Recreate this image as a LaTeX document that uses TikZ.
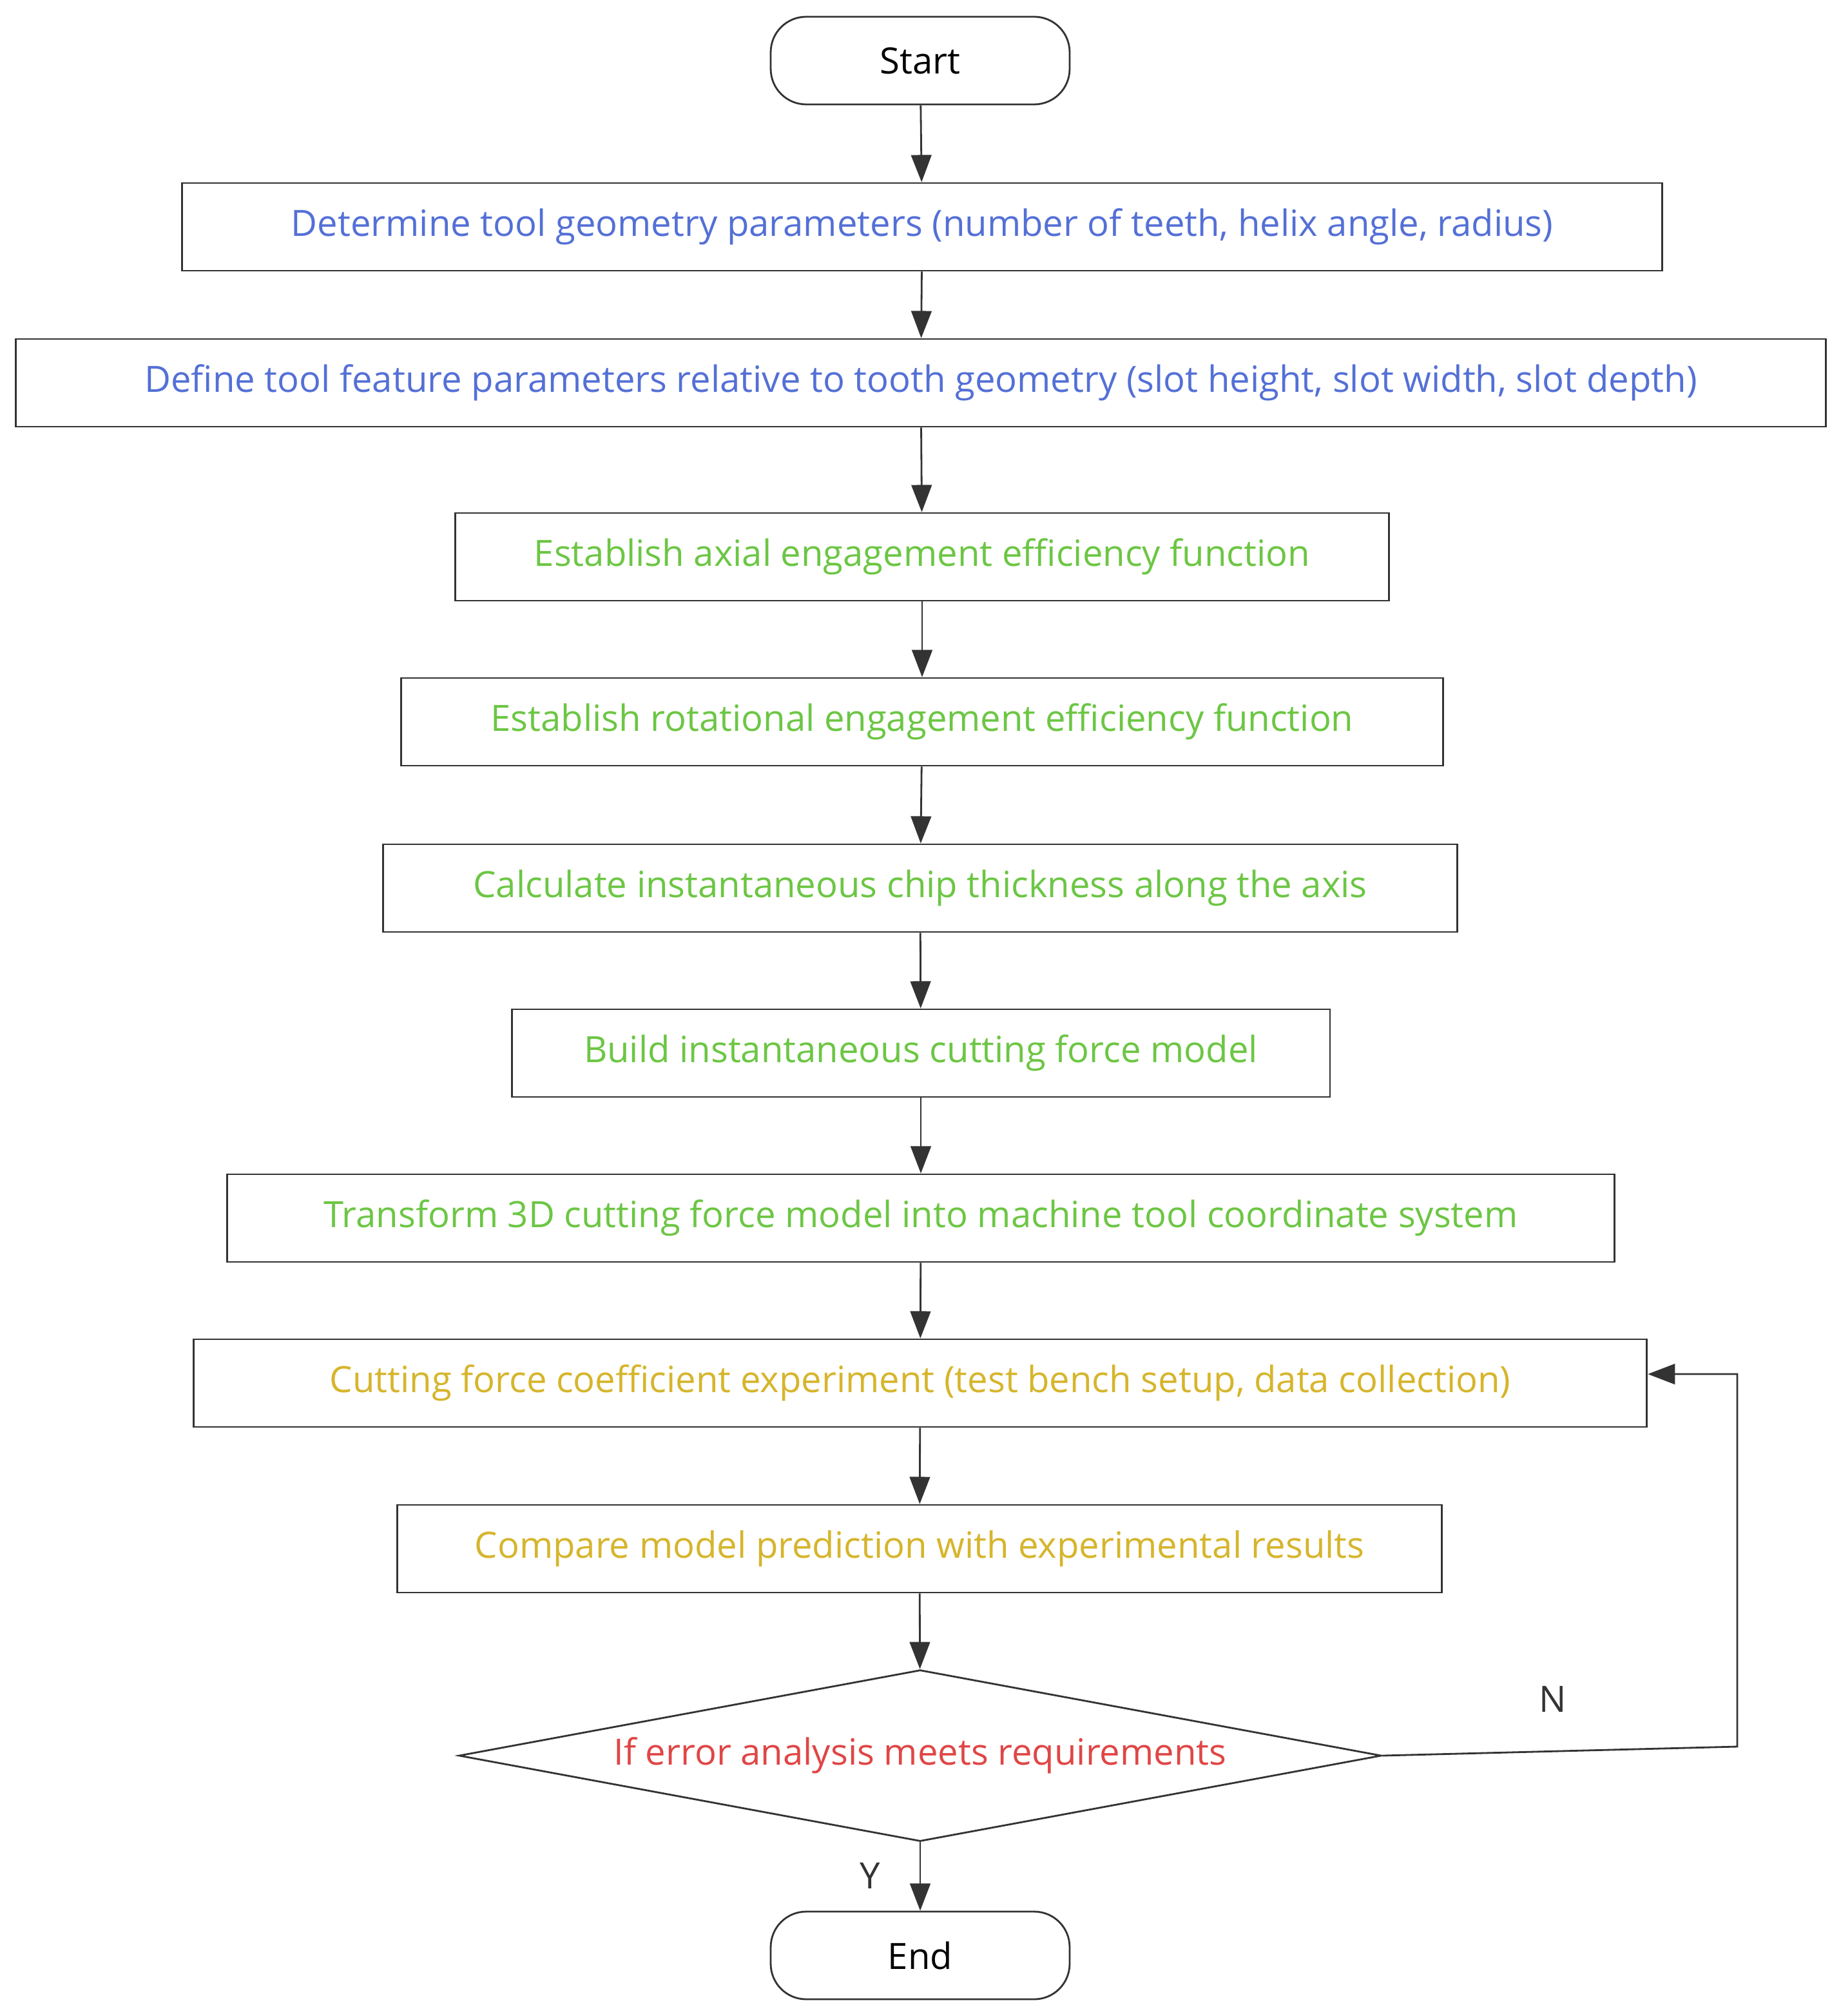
\documentclass[tikz,border=0pt]{standalone}
\usepackage{fontspec}
\setmainfont{Open Sans}
\usetikzlibrary{shapes.geometric,arrows.meta}
\definecolor{cb}{HTML}{5470D6}
\definecolor{cg}{HTML}{6CC644}
\definecolor{cy}{HTML}{D6B52C}
\definecolor{cr}{HTML}{E04646}
\definecolor{ln}{HTML}{333333}
\begin{document}
\begin{tikzpicture}[x=0.02cm,y=-0.02cm,
  box/.style={draw=ln,line width=0.8pt,minimum height=1.36cm,inner sep=0pt,font=\fontsize{16}{19}\selectfont},
  term/.style={box,rounded corners=0.55cm,minimum width=4.64cm},
  arr/.style={-{Triangle[length=12pt,width=9pt]},draw=ln,line width=0.8pt}]
\useasboundingbox (0,0) rectangle (1428,1564);
\node[term] (s) at (714,47) {Start};
\node[box,minimum width=22.98cm,text=cb] (b1) at (715.5,176) {Determine tool geometry parameters (number of teeth, helix angle, radius)};
\node[box,minimum width=28.1cm,text=cb] (b2) at (714.5,297) {Define tool feature parameters relative to tooth geometry (slot height, slot width, slot depth)};
\node[box,minimum width=14.5cm,text=cg] (b3) at (715.5,432) {Establish axial engagement efficiency function};
\node[box,minimum width=16.18cm,text=cg] (b4) at (715.5,560) {Establish rotational engagement efficiency function};
\node[box,minimum width=16.68cm,text=cg] (b5) at (714,689) {Calculate instantaneous chip thickness along the axis};
\node[box,minimum width=12.7cm,text=cg] (b6) at (714.5,817) {Build instantaneous cutting force model};
\node[box,minimum width=21.54cm,text=cg] (b7) at (714.5,945) {Transform 3D cutting force model into machine tool coordinate system};
\node[box,minimum width=22.56cm,text=cy] (b8) at (714,1073) {Cutting force coefficient experiment (test bench setup, data collection)};
\node[box,minimum width=16.22cm,text=cy] (b9) at (713.5,1201.5) {Compare model prediction with experimental results};
\node[diamond,aspect=5.4,draw=ln,line width=0.8pt,inner sep=0pt,minimum width=14.32cm,minimum height=2.66cm,text=cr,font=\fontsize{16}{19}\selectfont] (d) at (714,1362) {If error analysis meets requirements};
\node[term] (e) at (714,1517) {End};
\foreach \a/\b in {s/b1,b1/b2,b2/b3,b3/b4,b4/b5,b5/b6,b6/b7,b7/b8,b8/b9,b9/d,d/e} \draw[arr] (\a) -- (\b);
\coordinate (c1) at (1348,1355);
\coordinate (c2) at (1348,1066);
\draw[arr] (d.east) -- (c1) -- (c2) -- (b8.east |- c2);
\node[font=\fontsize{16}{19}\selectfont,text=ln] (n) at (1205,1318) {N};
\node[font=\fontsize{16}{19}\selectfont,text=ln] (y) at (675,1455) {Y};
\end{tikzpicture}
\end{document}
